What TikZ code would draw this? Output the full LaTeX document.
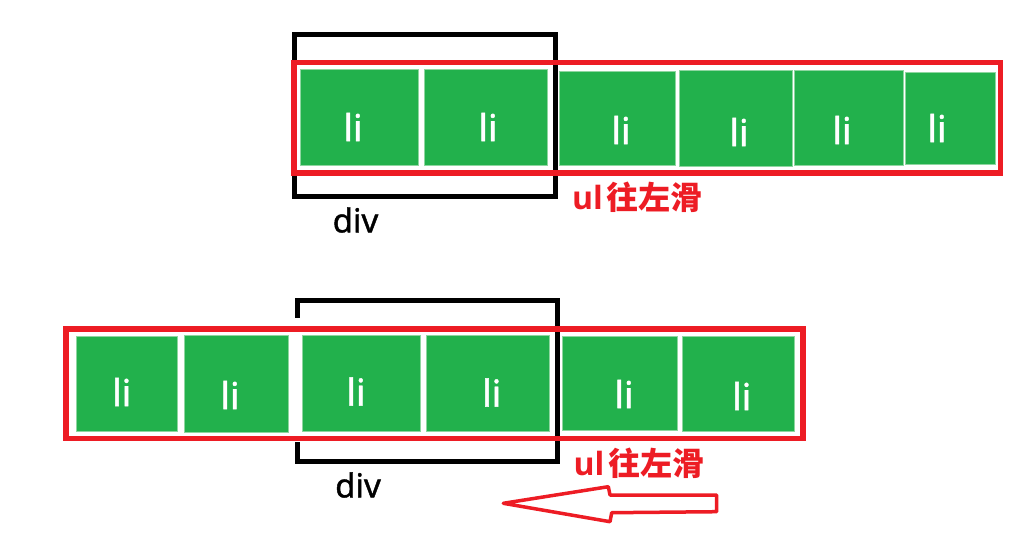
\documentclass[tikz,border=0pt]{standalone}
\usepackage{fontspec}
\setmainfont{Noto Sans}
\newfontfamily\medfont{Noto Sans}[FakeBold=1.2]
\newfontfamily\cjk{Noto Sans CJK SC}
\newfontfamily\osans{Open Sans}
\definecolor{pgreen}{HTML}{22B14C}
\definecolor{pedge}{HTML}{8ED6A0}
\definecolor{pred}{HTML}{ED1C24}
\begin{document}
\begin{tikzpicture}[x=1pt,y=-1pt,
  libox/.style={fill=pgreen,draw=pedge,line width=1pt},
  lilabel/.style={text=white,inner sep=0pt,font=\medfont\fontsize{37}{40}\selectfont},
  divbox/.style={draw=black,line width=5pt},
  ulbox/.style={draw=pred,line width=5.5pt},
  divlabel/.style={text=black,inner sep=0pt,font=\medfont\fontsize{33}{36}\selectfont},
  ullabel/.style={text=pred,inner sep=0pt,font=\fontsize{32}{36}\selectfont\bfseries},
  arrowline/.style={draw=pred,fill=white,line width=3.5pt,line join=round}]
\useasboundingbox (0,0) rectangle (1024,540);
% ---------- top ----------
\draw[divbox] (294.5,34.5) rectangle (555.5,196);
\draw[ulbox] (294,62.5) rectangle (1000.5,173);
\path[libox] (300,70) rectangle (418,166);
\path[libox] (424,70) rectangle (547,166);
\path[libox] (559,72) rectangle (675,166);
\path[libox] (679,71) rectangle (792,167);
\path[libox] (794,71) rectangle (903,166);
\path[libox] (905,73) rectangle (995,165);
\node[lilabel] (t1) at (353,127) {li};
\node[lilabel] (t2) at (488,127) {li};
\node[lilabel] (t3) at (621,130) {li};
\node[lilabel] (t4) at (739,132) {li};
\node[lilabel] (t5) at (842,130) {li};
\node[lilabel] (t6) at (937,128) {li};
\node[divlabel] (div1) at (355.5,220) {div};
\node[ullabel] (ul1) at (637.5,197.5) {{\osans ul}\hspace{4pt}{\cjk 往左滑}};
% ---------- bottom ----------
\draw[divbox] (297.5,300) rectangle (557.5,461);
\fill[white] (290,318) rectangle (302,442);
\draw[ulbox] (66,329) rectangle (803,438.5);
\path[libox] (76,336.7) rectangle (177,431.3);
\path[libox] (184,335) rectangle (288.7,432);
\path[libox] (302.7,335) rectangle (420.7,431.3);
\path[libox] (426.7,335) rectangle (549.3,431.3);
\path[libox] (562.3,336.7) rectangle (677.7,430);
\path[libox] (682.7,336) rectangle (794,431);
\node[lilabel] (b1) at (121.7,392) {li};
\node[lilabel] (b2) at (230,395) {li};
\node[lilabel] (b3) at (356,391.5) {li};
\node[lilabel] (b4) at (491.7,392.5) {li};
\node[lilabel] (b5) at (624,394) {li};
\node[lilabel] (b6) at (741.7,396) {li};
\node[divlabel] (div2) at (358,485) {div};
\node[ullabel] (ul2) at (639,463.5) {{\osans ul}\hspace{4pt}{\cjk 往左滑}};
% arrow
\coordinate (atip) at (503.3,503.3);
\coordinate (abt) at (608.3,486.7);
\coordinate (ast) at (610,495);
\coordinate (art) at (716.7,495);
\coordinate (arb) at (716.7,511.7);
\coordinate (asb) at (611.7,512.7);
\coordinate (abb) at (610,521.7);
\draw[arrowline] (atip) -- (abt) -- (ast) -- (art) -- (arb) -- (asb) -- (abb) -- cycle;
\end{tikzpicture}
\end{document}
